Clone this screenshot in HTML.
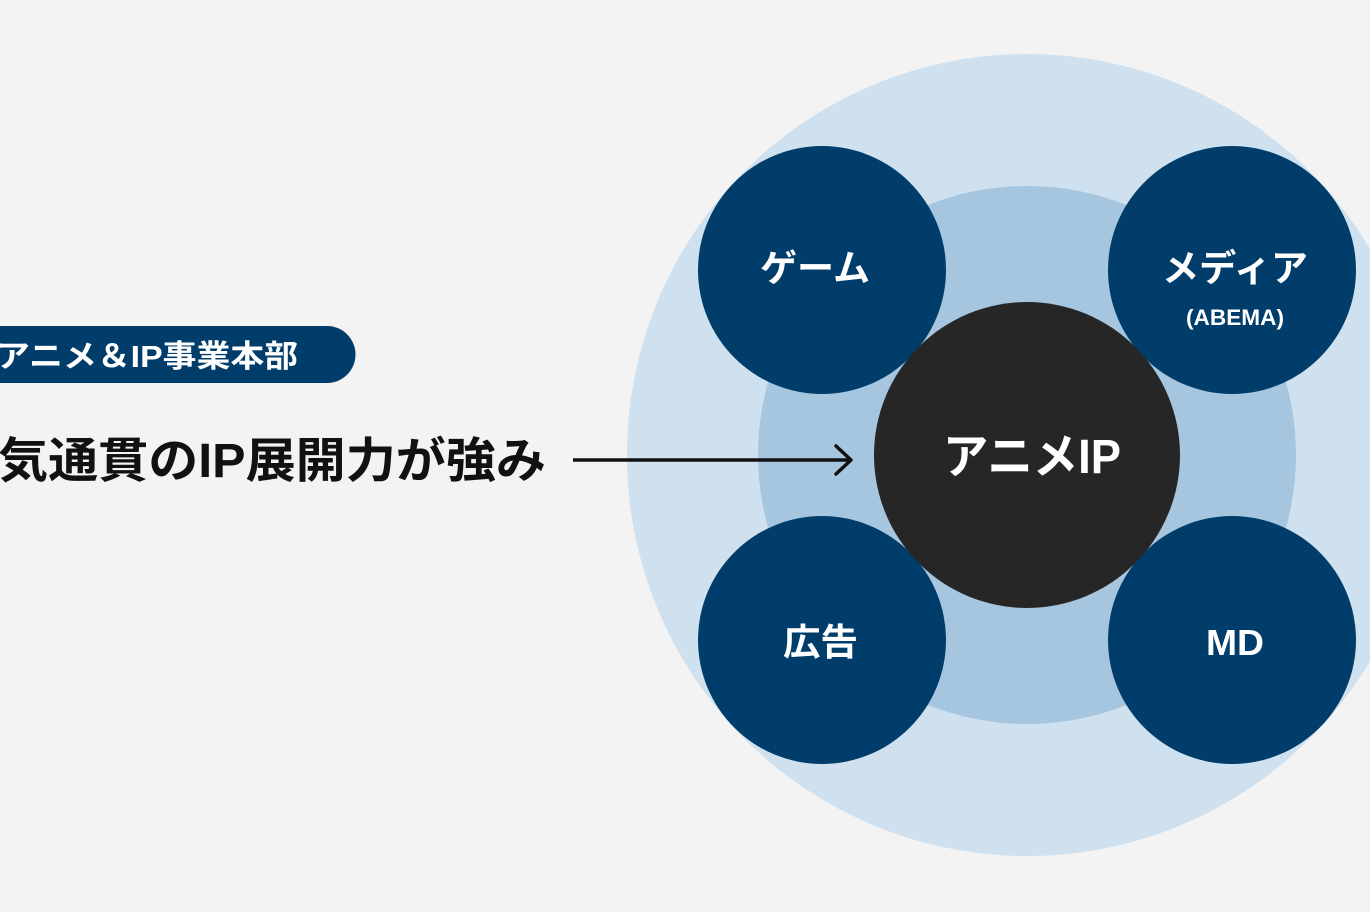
<!DOCTYPE html>
<html><head><meta charset="utf-8"><style>
html,body{margin:0;padding:0;background:#f3f3f3;width:1370px;height:912px;overflow:hidden}
svg{display:block}
text{font-family:"Liberation Sans","Noto Sans CJK JP",sans-serif;font-weight:bold}
</style></head><body>
<svg width="1370" height="912" viewBox="0 0 1370 912">
<rect width="1370" height="912" fill="#f3f3f3"/>
<ellipse cx="1027" cy="455" rx="400" ry="401" fill="#cfe0ee"/>
<circle cx="1027" cy="455" r="269" fill="#a6c6e0"/>
<circle cx="822" cy="270" r="124" fill="#003d6b"/>
<circle cx="1232" cy="270" r="124" fill="#003d6b"/>
<circle cx="822" cy="640" r="124" fill="#003d6b"/>
<circle cx="1232" cy="640" r="124" fill="#003d6b"/>
<circle cx="1027" cy="455" r="153" fill="#262626"/>
<text x="760" y="281" font-size="37" fill="#fff" textLength="110" lengthAdjust="spacingAndGlyphs">ゲーム</text>
<text x="1162" y="281" font-size="37" fill="#fff" textLength="146" lengthAdjust="spacingAndGlyphs">メディア</text>
<text x="1186" y="325" font-size="22" fill="#fff" textLength="98" lengthAdjust="spacingAndGlyphs">(ABEMA)</text>
<text x="783" y="655" font-size="37" fill="#fff" textLength="75" lengthAdjust="spacingAndGlyphs">広告</text>
<text x="1206" y="655" font-size="36" fill="#fff" textLength="58" lengthAdjust="spacingAndGlyphs">MD</text>
<text x="943" y="473" font-size="48" fill="#fff" textLength="178" lengthAdjust="spacingAndGlyphs">アニメIP</text>
<path d="M-40 326 H327 A28.5 28.5 0 0 1 327 383 H-40 Z" fill="#003d6b"/>
<text x="-4" y="367" font-size="31" fill="#fff" textLength="302" lengthAdjust="spacingAndGlyphs">アニメ＆IP事業本部</text>
<text x="-2" y="477" font-size="48" fill="#111" textLength="548" lengthAdjust="spacingAndGlyphs">気通貫のIP展開力が強み</text>
<line x1="573" y1="460" x2="851" y2="460" stroke="#111" stroke-width="3.5"/>
<polyline points="836,446 851,460 836,474" fill="none" stroke="#111" stroke-width="3.5" stroke-linecap="round" stroke-linejoin="round"/>
</svg>
</body></html>
